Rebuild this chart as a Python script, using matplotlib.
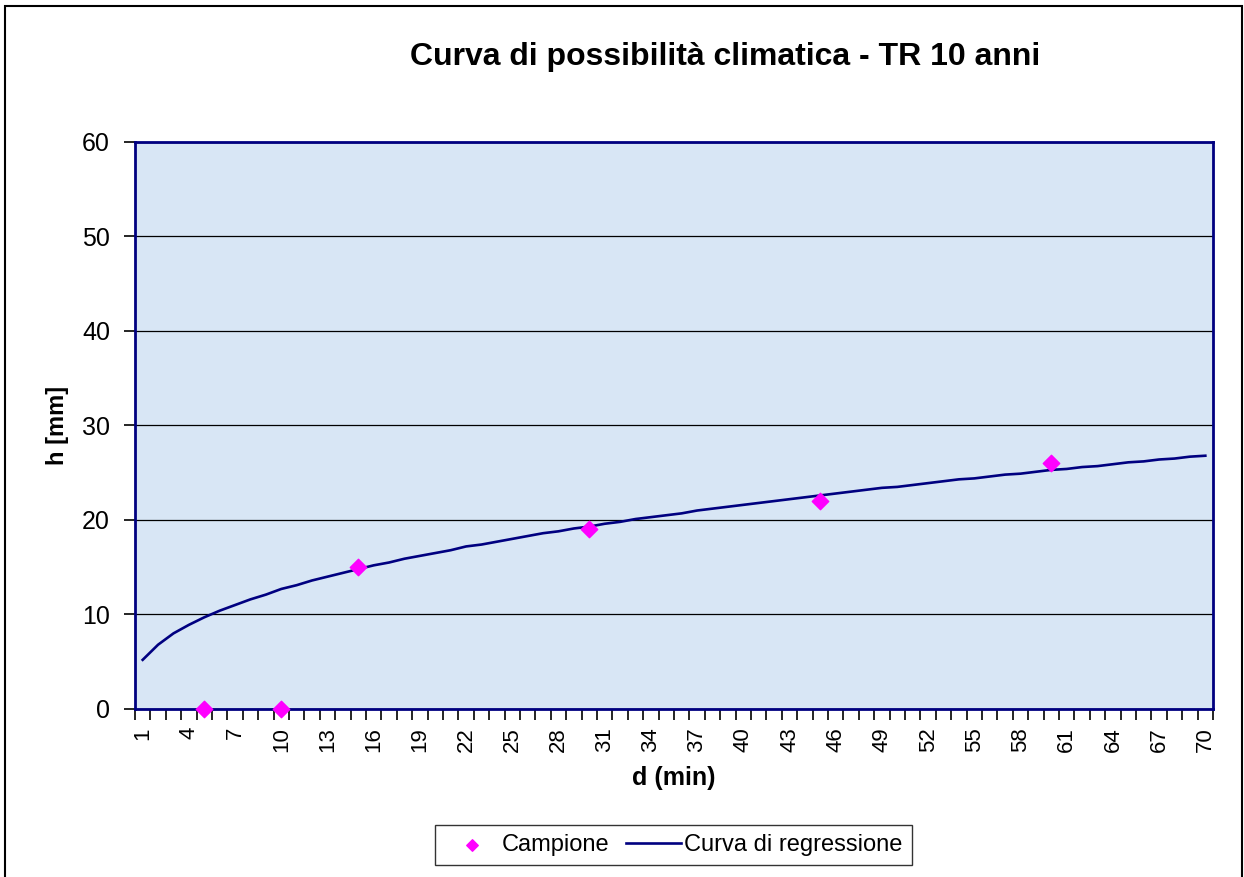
import matplotlib
matplotlib.use("Agg")
import matplotlib.pyplot as plt
from matplotlib.patches import Rectangle

plt.rcParams["font.family"] = ["Liberation Sans", "DejaVu Sans"]

# durations (categories) and regression curve values
durations = list(range(1, 71))
curve_h = [
    5.2, 6.8, 8.0, 8.9, 9.7, 10.4, 11.0, 11.6, 12.1, 12.7,
    13.1, 13.6, 14.0, 14.4, 14.8, 15.2, 15.5, 15.9, 16.2, 16.5,
    16.8, 17.2, 17.4, 17.7, 18.0, 18.3, 18.6, 18.8, 19.1, 19.3,
    19.6, 19.8, 20.1, 20.3, 20.5, 20.7, 21.0, 21.2, 21.4, 21.6,
    21.8, 22.0, 22.2, 22.4, 22.6, 22.8, 23.0, 23.2, 23.4, 23.5,
    23.7, 23.9, 24.1, 24.3, 24.4, 24.6, 24.8, 24.9, 25.1, 25.3,
    25.4, 25.6, 25.7, 25.9, 26.1, 26.2, 26.4, 26.5, 26.7, 26.8,
]

# sample points
sample_d = [5, 10, 15, 30, 45, 60]
sample_h = [0, 0, 15, 19, 22, 26]

tick_labels = list(range(1, 71, 3))

fig = plt.figure(figsize=(12.44, 8.77), dpi=100)
ax = fig.add_axes([0.1085, 0.1916, 0.8666, 0.6465])
ax.set_facecolor("#d8e6f5")

ax.plot(durations, curve_h, color="#000080", lw=1.9, label="Curva di regressione", zorder=3)
ax.scatter(sample_d, sample_h, marker="D", s=70, color="#ff00ff", label="Campione",
           zorder=4, clip_on=False)

ax.set_xlim(0.5, 70.5)
ax.set_ylim(0, 60)
ax.set_yticks(range(0, 61, 10))
ax.grid(axis="y", color="black", lw=0.9)
ax.set_axisbelow(True)

ax.set_xticks(tick_labels)
ax.set_xticklabels([str(t) for t in tick_labels], rotation=90)
ax.set_xticks([k + 0.5 for k in range(0, 71)], minor=True)
ax.tick_params(axis="x", which="major", length=0, labelsize=16, pad=13)
ax.tick_params(axis="x", which="minor", length=8, width=1.2, color="black", direction="out")
ax.tick_params(axis="y", length=8, width=1.2, labelsize=18, pad=10)

for s in ax.spines.values():
    s.set_color("#000080")
    s.set_linewidth(2)

ax.set_xlabel("d (min)", fontsize=18, fontweight="bold", labelpad=10)
ax.set_ylabel("h [mm]", fontsize=17, fontweight="bold", labelpad=9)

fig.text(0.583, 0.935, "Curva di possibilità climatica - TR 10 anni",
         ha="center", va="center", fontsize=23, fontweight="bold")

handles, labels = ax.get_legend_handles_labels()
leg = fig.legend(handles[::-1], labels[::-1], loc="center", bbox_to_anchor=(0.5414, 0.0365),
                 ncol=2, fontsize=17, frameon=True, fancybox=False, edgecolor="black",
                 handlelength=2.3, columnspacing=0.7, handletextpad=0.15, borderpad=0.4,
                 borderaxespad=0, scatterpoints=1, markerscale=0.7)
leg.get_frame().set_linewidth(1)
leg._legend_box.sep = 10

fig.patches.append(Rectangle((0.004, -0.01), 0.994, 1.003, transform=fig.transFigure,
                             fill=False, edgecolor="black", lw=1.5))

fig.savefig("out.png", dpi=100)
